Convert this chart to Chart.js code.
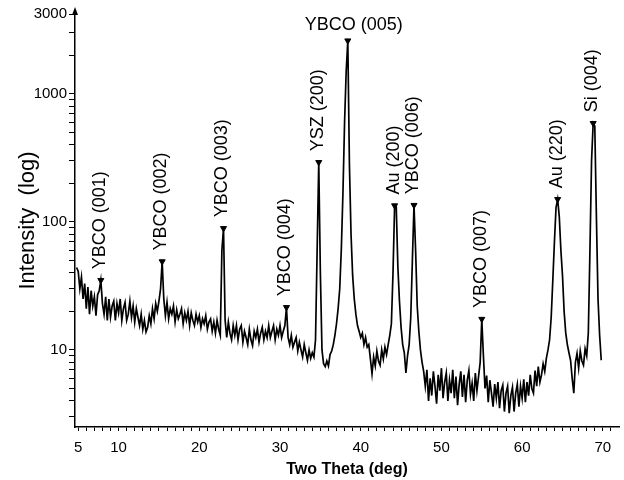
<!DOCTYPE html>
<html lang="en">
<head>
  <meta charset="UTF-8" />
  <title>XRD pattern</title>
  <script src="https://cdn.jsdelivr.net/npm/chart.js"></script>
  <style>
    html, body { margin: 0; padding: 0; background: #fff; }
    #wrap { width: 624px; height: 480px; }
  </style>
</head>
<body>
  <div id="wrap"><canvas id="xrdChart" width="624" height="480"></canvas></div>

<script>
  // scan angles (deg) and counts
  const twoTheta = [
    4.8, 5, 5.2, 5.4, 5.6, 5.8, 6, 6.2, 6.4, 6.6,
    6.8, 7, 7.2, 7.4, 7.6, 7.8, 8, 8.2, 8.4, 8.6,
    8.8, 9, 9.2, 9.4, 9.6, 9.8, 10, 10.2, 10.4, 10.6,
    10.8, 11, 11.2, 11.4, 11.6, 11.8, 12, 12.2, 12.4, 12.6,
    12.8, 13, 13.2, 13.4, 13.6, 13.8, 14, 14.2, 14.4, 14.6,
    14.8, 15, 15.2, 15.4, 15.6, 15.8, 16, 16.2, 16.4, 16.6,
    16.8, 17, 17.2, 17.4, 17.6, 17.8, 18, 18.2, 18.4, 18.6,
    18.8, 19, 19.2, 19.4, 19.6, 19.8, 20, 20.2, 20.4, 20.6,
    20.8, 21, 21.2, 21.4, 21.6, 21.8, 22, 22.2, 22.4, 22.6,
    22.8, 23, 23.2, 23.4, 23.6, 23.8, 24, 24.2, 24.4, 24.6,
    24.8, 25, 25.2, 25.4, 25.6, 25.8, 26, 26.2, 26.4, 26.6,
    26.8, 27, 27.2, 27.4, 27.6, 27.8, 28, 28.2, 28.4, 28.6,
    28.8, 29, 29.2, 29.4, 29.6, 29.8, 30, 30.2, 30.4, 30.6,
    30.8, 31, 31.2, 31.4, 31.6, 31.8, 32, 32.2, 32.4, 32.6,
    32.8, 33, 33.2, 33.4, 33.6, 33.8, 34, 34.2, 34.4, 34.6,
    34.8, 35, 35.2, 35.4, 35.6, 35.8, 36, 36.2, 36.4, 36.6,
    36.8, 37, 37.2, 37.4, 37.6, 37.8, 38, 38.2, 38.4, 38.6,
    38.8, 39, 39.2, 39.4, 39.6, 39.8, 40, 40.2, 40.4, 40.6,
    40.8, 41, 41.2, 41.4, 41.6, 41.8, 42, 42.2, 42.4, 42.6,
    42.8, 43, 43.2, 43.4, 43.6, 43.8, 44, 44.2, 44.4, 44.6,
    44.8, 45, 45.2, 45.4, 45.6, 45.8, 46, 46.2, 46.4, 46.6,
    46.8, 47, 47.2, 47.4, 47.6, 47.8, 48, 48.2, 48.4, 48.6,
    48.8, 49, 49.2, 49.4, 49.6, 49.8, 50, 50.2, 50.4, 50.6,
    50.8, 51, 51.2, 51.4, 51.6, 51.8, 52, 52.2, 52.4, 52.6,
    52.8, 53, 53.2, 53.4, 53.6, 53.8, 54, 54.2, 54.4, 54.6,
    54.8, 55, 55.2, 55.4, 55.6, 55.8, 56, 56.2, 56.4, 56.6,
    56.8, 57, 57.2, 57.4, 57.6, 57.8, 58, 58.2, 58.4, 58.6,
    58.8, 59, 59.2, 59.4, 59.6, 59.8, 60, 60.2, 60.4, 60.6,
    60.8, 61, 61.2, 61.4, 61.6, 61.8, 62, 62.2, 62.4, 62.6,
    62.8, 63, 63.2, 63.4, 63.6, 63.8, 64, 64.2, 64.4, 64.6,
    64.8, 65, 65.2, 65.4, 65.6, 65.8, 66, 66.2, 66.4, 66.6,
    66.8, 67, 67.2, 67.4, 67.6, 67.8, 68, 68.2, 68.4, 68.6,
    68.8, 69, 69.2, 69.4, 69.6, 69.8
  ];

  const intensity = [
    44, 41, 30, 37, 25, 33, 21, 31, 19, 29,
    22, 26, 18.5, 27, 29, 35, 23, 19, 26, 17,
    25, 18, 22, 24, 17, 23, 19.5, 25, 17, 21,
    23.5, 17, 19, 24, 18, 22, 16.5, 21, 18, 15.5,
    19, 14.5, 17, 13.8, 15, 18.5, 16, 21, 17.5, 23,
    20, 24, 30, 49, 25, 18.5, 23.5, 17.5, 21, 19,
    22, 16.5, 20.5, 17.5, 19, 21, 16, 19.5, 17, 20,
    15.5, 19.5, 17, 15.5, 19, 16.5, 18.5, 15, 17.5, 16,
    18.5, 14.5, 16.5, 17.5, 14, 16.5, 13.5, 17, 14.5, 13,
    60, 89, 17, 12.5, 16.5, 13.5, 12, 15.5, 13, 15.5,
    12, 14.5, 15.5, 11.5, 14, 12.5, 11, 14.5, 12, 10.8,
    14, 12.5, 14.5, 11.5, 13.5, 15, 12, 14, 12.5, 15.5,
    12.5, 14, 15.5, 12, 14.5, 13, 15.5, 12.5, 14, 15.5,
    21.5, 12.5, 11, 13, 10.5, 11.5, 12.5, 9.8, 11.5, 10,
    8.8, 11, 9.5, 8.3, 10, 8.6, 9.5, 8.8, 12, 60,
    292, 40, 10, 7.8, 7.4, 8.2, 7.5, 9.2, 9.8, 11,
    13, 16, 21, 30, 62, 170, 600, 1500, 2600, 280,
    80, 38, 25, 19, 15.5, 14, 12.5, 13.5, 11, 12.5,
    10.5, 11, 8.5, 6.5, 8.8, 7.5, 9.8, 8.2, 7.6, 10,
    8.5, 10.5, 9.2, 11, 13, 16, 40, 134, 132, 45,
    24, 15, 11, 9.5, 6.6, 9, 11, 18, 50, 135,
    60, 22, 14, 10, 8, 6.8, 5.2, 7, 4, 6,
    4.4, 6.8, 5.2, 3.8, 6.4, 4.8, 7.2, 4.2, 5.6, 6.6,
    4, 5.8, 4.6, 7, 4.2, 6.2, 3.7, 5.4, 6.8, 4.3,
    6.4, 3.9, 5.8, 6.9, 4.5, 5.5, 4, 6.6, 4.8, 6.2,
    8, 17.4, 9, 5, 6.3, 3.9, 5.8, 4.6, 3.6, 5.4,
    4.2, 5.6, 3.5, 4.8, 5.3, 3.3, 4.6, 5.2, 3.2, 4.4,
    5.1, 3.3, 4.6, 5.4, 3.6, 5.2, 4.2, 5.9, 3.9, 5.6,
    4.4, 6.4, 5, 4.6, 6.9, 5.2, 7.4, 5.6, 6.4, 7.8,
    6.8, 8.6, 10, 12, 18, 35, 70, 130, 150, 110,
    60, 38, 20, 13.6, 11, 9.5, 8.3, 6, 4.6, 8,
    9.4, 7.2, 9.8, 8.2, 7.6, 10.2, 9, 13.6, 60, 300,
    589, 560, 110, 25, 13, 8.3
  ];

  const peakNames = ["YBCO (001)", "YBCO (002)", "YBCO (003)", "YBCO (004)", "YSZ (200)",
                     "YBCO (005)", "Au (200)", "YBCO (006)", "YBCO (007)", "Au (220)", "Si (004)"];
  const peakAngles = [7.8, 15.4, 23, 30.8, 34.8, 38.4, 44.2, 46.6, 55, 64.4, 68.8];
  const peakHeights = [35, 49, 89, 21.5, 292, 2600, 134, 135, 17.4, 150, 589];

  const xLabelValues = [5, 10, 20, 30, 40, 50, 60, 70];
  const yLabelValues = [10, 100, 1000];
  const yTopLabel = "3000";

  const xMin = 4.6, xMax = 72;
  const yMin = 2.5, yMax = 4200;

  const FONT = '"Liberation Sans", Arial, sans-serif';

  const scanPoints = twoTheta.map((t, i) => ({ x: t, y: intensity[i] }));
  const peakPoints = peakAngles.map((t, i) => ({ x: t, y: peakHeights[i] }));

  const peakLabels = {
    id: 'peakLabels',
    afterDatasetsDraw(chart) {
      const { ctx, scales: { x, y }, chartArea } = chart;
      ctx.save();
      ctx.fillStyle = '#000';
      ctx.font = '18px ' + FONT;
      peakNames.forEach((name, i) => {
        const px = x.getPixelForValue(peakAngles[i]);
        const py = y.getPixelForValue(peakHeights[i]);
        if (name === 'YBCO (005)') {
          ctx.textAlign = 'center';
          ctx.textBaseline = 'middle';
          ctx.fillText(name, px + 6, py - 16);
        } else {
          ctx.save();
          ctx.translate(px - 1, py - 11);
          ctx.rotate(-Math.PI / 2);
          ctx.textAlign = 'left';
          ctx.textBaseline = 'middle';
          ctx.fillText(name, 0, 0);
          ctx.restore();
        }
      });
      // little arrow head on top of the y axis
      const ax = chartArea.left, ay = chartArea.top;
      ctx.beginPath();
      ctx.moveTo(ax, ay - 7);
      ctx.lineTo(ax - 3, ay + 1);
      ctx.lineTo(ax + 3, ay + 1);
      ctx.closePath();
      ctx.fill();
      ctx.restore();
    }
  };

  new Chart(document.getElementById('xrdChart'), {
    type: 'scatter',
    data: {
      datasets: [
        {
          data: scanPoints,
          showLine: true,
          borderColor: '#000',
          borderWidth: 1.7,
          pointRadius: 0,
          tension: 0
        },
        {
          data: peakPoints,
          pointStyle: 'triangle',
          rotation: 180,
          pointRadius: 3.5,
          backgroundColor: '#000',
          borderColor: '#000',
          borderWidth: 1
        }
      ]
    },
    options: {
      responsive: false,
      animation: false,
      devicePixelRatio: 1,
      layout: { padding: { top: 14, right: 0, left: 0, bottom: 0 } },
      plugins: {
        legend: { display: false },
        tooltip: { enabled: false }
      },
      scales: {
        x: {
          type: 'linear',
          min: xMin,
          max: xMax,
          afterBuildTicks: (scale) => {
            const t = [];
            for (let v = 5; v <= 71; v++) t.push({ value: v });
            scale.ticks = t;
          },
          afterFit: (scale) => { scale.height = 53; },
          border: { display: true, color: '#000', width: 1.5 },
          grid: { drawOnChartArea: false, drawTicks: true, tickLength: 4, tickColor: '#000', tickWidth: 1 },
          ticks: {
            autoSkip: false,
            maxRotation: 0,
            padding: 8,
            color: '#000',
            font: { family: FONT, size: 15 },
            callback: (v) => xLabelValues.includes(v) ? String(v) : ''
          },
          title: {
            display: true,
            text: 'Two Theta (deg)',
            color: '#000',
            font: { family: FONT, size: 16, weight: 'bold', lineHeight: 1.2 },
            padding: { top: 0, bottom: 1 }
          }
        },
        y: {
          type: 'logarithmic',
          min: yMin,
          max: yMax,
          afterBuildTicks: (scale) => {
            const t = [];
            [1, 10, 100, 1000].forEach(d => {
              for (let m = 1; m < 10; m++) {
                const v = m * d;
                if (v >= 3 && v <= 3000) t.push({ value: v });
              }
            });
            t.push({ value: yMax });
            scale.ticks = t;
          },
          afterFit: (scale) => { scale.width = 75; },
          border: { display: true, color: '#000', width: 1.5 },
          grid: { drawOnChartArea: false, drawTicks: true, tickLength: 6, tickColor: '#000', tickWidth: 1 },
          ticks: {
            autoSkip: false,
            padding: 2,
            color: '#000',
            font: { family: FONT, size: 15 },
            callback: (v) => v === yMax ? yTopLabel : (yLabelValues.includes(v) ? String(v) : '')
          },
          title: {
            display: true,
            text: 'Intensity  (log)',
            color: '#000',
            font: { family: FONT, size: 22, lineHeight: 1.2 },
            padding: { top: 15, bottom: 0 }
          }
        }
      }
    },
    plugins: [peakLabels]
  });
</script>
</body>
</html>
